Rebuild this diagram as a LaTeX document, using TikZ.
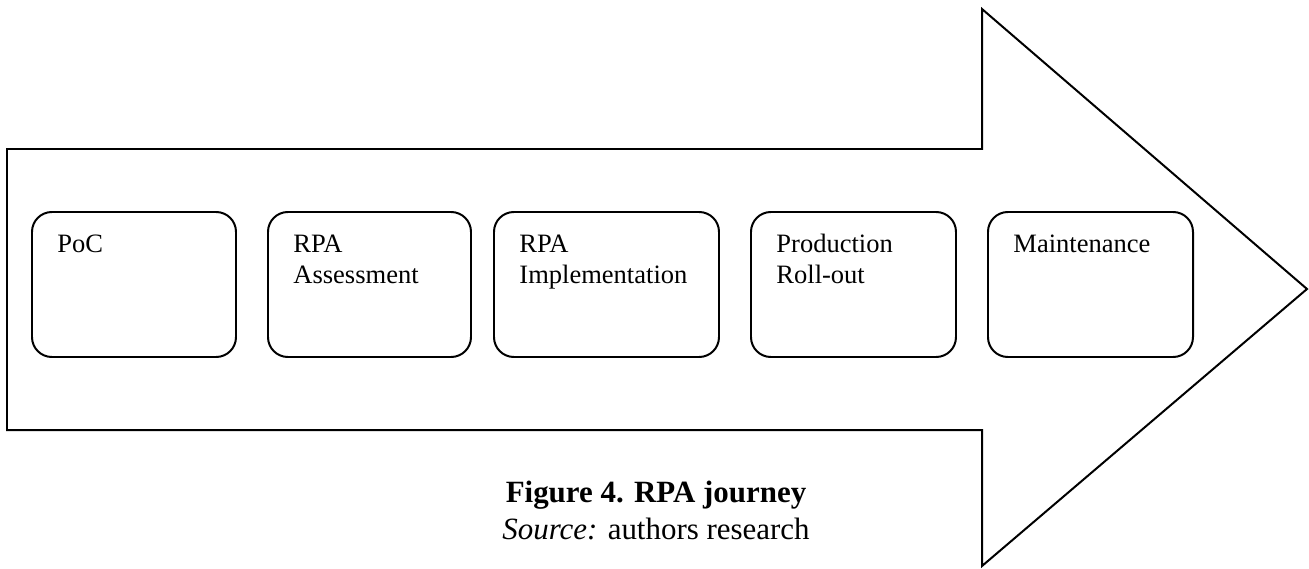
\documentclass[tikz,border=0pt]{standalone}
\usepackage{fontspec}
\setmainfont{Liberation Serif}
\newcommand{\pxu}{0.4525pt}
\tikzset{
  outline/.style={draw=black, line width=0.9pt, line join=miter},
  stagebox/.style={draw=black, line width=0.9pt, rounded corners=9pt,
    rectangle, inner sep=0pt, anchor=north west, minimum height={145*\pxu}},
  stagetext/.style={anchor=base west, align=left, inner sep=0pt,
    font=\fontsize{12}{14}\selectfont},
  captiontext/.style={anchor=base, inner sep=0pt}
}
\begin{document}
\begin{tikzpicture}[x=\pxu, y=-\pxu]
  \useasboundingbox (0,0) rectangle (1309,568);
  % block arrow
  \draw[outline] (7,149) -- (982,149) -- (982,9) -- (1307,289)
    -- (982,566) -- (982,430) -- (7,430) -- cycle;
  % stage boxes
  \node[stagebox, minimum width={204*\pxu}] (poc) at (31,211) {};
  \node[stagebox, minimum width={203*\pxu}] (assess) at (267,211) {};
  \node[stagebox, minimum width={225*\pxu}] (impl) at (493,211) {};
  \node[stagebox, minimum width={205*\pxu}] (prod) at (750,211) {};
  \node[stagebox, minimum width={205*\pxu}] (maint) at (987,211) {};
  % stage labels (base anchor sits on the last line)
  \node[stagetext] (poct) at (57,252) {PoC};
  \node[stagetext] (assesst) at (293,283) {RPA\\Assessment};
  \node[stagetext] (implt) at (519,283) {RPA\\Implementation};
  \node[stagetext] (prodt) at (776,283) {Production\\Roll-out};
  \node[stagetext] (maintt) at (1013,252) {Maintenance};
  % caption
  \node[captiontext, font=\fontsize{14}{16}\bfseries] (cap) at (656,502) {Figure 4. RPA journey};
  \node[captiontext, font=\fontsize{14}{16}\selectfont] (src) at (656,539) {\textit{Source:} authors research};
\end{tikzpicture}
\end{document}
